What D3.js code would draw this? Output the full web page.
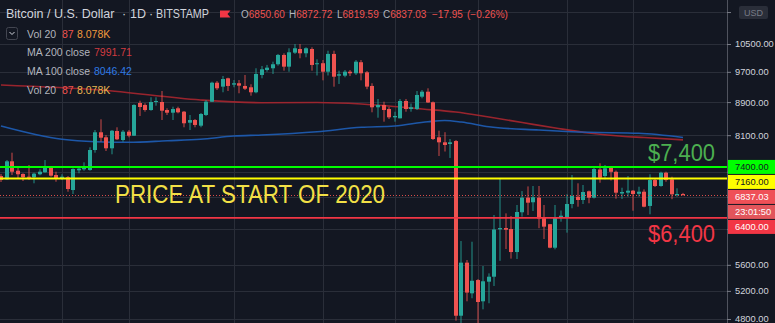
<!DOCTYPE html>
<html><head><meta charset="utf-8">
<script src="https://cdn.jsdelivr.net/npm/d3@7"></script>
<style>
html,body{margin:0;padding:0;background:#131722;overflow:hidden}
svg{display:block}
text{font-family:"Liberation Sans",Arial,sans-serif}
</style>
</head><body>
<svg id="c" width="775" height="323"></svg>
<script>
// ---------- DATA ----------
const startDate = "2019-12-21"; // first daily candle
const opens  = [7211,7143,7519,7321,7253,7197,7185,7247,7288,7392,7232,7164,7185,6929,7329,7350,7335,7765,8167,8051,7803,8197,7989,8181,8088,8877,8827,8701,8902,8902,8701,8635,8744,8660,8393,8457,8322,8579,8910,9405,9300,9523,9353,9390,9318,9283,9152,9614,9751,9799,9912,10178,9844,10244,10352,10226,10352,9912,9941,9704,10207,9595,9595,9704,9660,9969,9687,9318,8769,8827,8726,8522,8498,8928,8726,8726,9038,9167,8895,8051,7937,7899,7966,4845,5635,5164,5363,5048,5338,5414,6196,6219,6201,5808,6504,6780,6692,6780,6399,6287,5880,6412,6412,6659,6798,6735,6904,6780,7346,7211,7388,7298,6861,6877,6916,6855,6896,6622,7129,7009,7279,7143,6845,6850.60];
const highs  = [7253,7547,7706,7420,7267,7441,7280,7350,7547,7405,7300,7247,7211,7371,7405,7498,7825,8220,8474,8105,8220,8284,8220,8220,8845,8935,8870,9023,9023,9185,8744,8784,8784,8677,8579,8481,8628,8953,9432,9450,9587,9540,9477,9477,9614,9363,9800,9864,9893,9985,10207,10226,10373,10500,10500,10402,10402,10053,10033,10302,10302,9732,9751,9751,10033,10033,9723,9390,8979,8910,8776,8660,8979,8979,8865,9185,9211,9256,8915,8204,8169,8012,7989,5993,5678,5981,5378,5582,5466,6454,7170,6484,6435,6640,6909,7001,7009,7009,6640,6291,6640,6537,6846,7232,7063,7029,6919,7392,7477,7441,7409,7325,6975,7211,6929,6995,6943,7247,7164,7300,7300,7197,6963,6872.72];
const lows   = [7089,7129,7232,7150,7109,7129,7063,7226,7280,7197,7095,7129,6896,6851,7267,7321,7321,7706,7951,7743,7671,7989,7951,8051,8082,8555,8660,8684,8809,8457,8579,8457,8620,8284,8220,8284,8284,8555,8902,9211,9152,9185,9283,9126,9211,9064,9126,9523,9704,9641,9872,9732,9704,10207,10082,10111,9732,9600,9469,9600,9299,9371,9551,9584,9614,9469,9232,8645,8513,8417,8481,8417,8498,8660,8660,8701,8996,8877,7989,7634,7732,7591,4777,3850,5048,5092,4440,4934,5020,5273,5665,5858,5700,5694,6423,6454,6528,6216,6027,5870,5853,6332,6137,6578,6608,6659,6673,6764,7075,7143,7119,6760,6755,6799,6533,6799,6597,6467,6989,6995,7095,6751,6799,6819.59];
const closes = [7129,7519,7300,7247,7185,7176,7259,7300,7405,7218,7150,7197,6949,7356,7363,7405,7765,8167,8042,7803,8203,8005,8181,8088,8827,8776,8701,8902,8928,8684,8635,8726,8645,8379,8457,8339,8603,8910,9405,9256,9504,9318,9390,9326,9246,9152,9641,9771,9816,9912,10178,9844,10255,10373,10226,10373,9892,9941,9704,10207,9567,9633,9704,9660,9985,9660,9300,8769,8827,8701,8522,8555,8928,8726,8769,9082,9167,8890,8012,7937,7877,7937,4845,5635,5175,5352,5038,5344,5414,6193,6219,6189,5808,6509,6780,6684,6788,6390,6243,5880,6412,6441,6659,6812,6735,6890,6780,7356,7176,7371,7298,6877,6890,6916,6851,6896,6608,7129,7009,7279,7129,6845,6851,6837.03];

// moving averages at selected candles (day index from start)
const ma200Days   = [0,18,36,47,57,65,72,76,82,88,94,100,106,112,116,123];
const ma200Values = [9343,9211,8953,8884,8890,8852,8776,8727,8652,8529,8397,8267,8150,8076,8046,7991.71];
const ma100Days   = [0,11,17,23,30,36,42,47,57,65,71,77,80,83,88,97,106,115,123];
const ma100Values = [8314,8005,7950,7937,7973,8007,8080,8104,8180,8283,8314,8416,8445,8409,8297,8220,8166,8143,8046.42];

const priceTicks = [11500,10500,9700,8900,8100,7300,6800,6200,5600,5200,4800];
const gridDates  = ["2020-01-01","2020-01-13","2020-02-01","2020-02-17","2020-03-01","2020-03-16","2020-04-01","2020-04-13"];

const levelGreen = 7400, levelYellow = 7160, levelRed = 6400;
const lastPrice = 6837.03;
const countdown = "23:01:50";

// ---------- CHART ----------
const W = 775, H = 323, plotR = 727;
const svg = d3.select("#c");
const parse = d3.utcParse("%Y-%m-%d");
const t0 = parse(startDate);
const dates = opens.map((_, i) => d3.utcDay.offset(t0, i));
const x = d3.scaleUtc().domain([t0, dates[dates.length - 1]]).range([1, 683]);
const y = d3.scaleLog().domain([10500, 4800]).range([44, 319]);

const up = "#26a69a", down = "#ef5350";

svg.append("rect").attr("width", W).attr("height", H).attr("fill", "#131722");

// grid
const grid = svg.append("g").attr("shape-rendering", "crispEdges").attr("stroke", "#2a2e39").attr("stroke-width", 1);
grid.selectAll(".hg").data(priceTicks).join("line")
  .attr("x1", 0).attr("x2", plotR)
  .attr("y1", d => Math.round(y(d)) + 0.5).attr("y2", d => Math.round(y(d)) + 0.5);
grid.selectAll(".vg").data(gridDates.map(parse)).join("line")
  .attr("y1", 0).attr("y2", H)
  .attr("x1", d => Math.round(x(d)) + 0.5).attr("x2", d => Math.round(x(d)) + 0.5);

// moving averages
const dayX = i => x(d3.utcDay.offset(t0, i));
const maLine = d3.line().x(d => dayX(d[0])).y(d => y(d[1])).curve(d3.curveMonotoneX);
svg.append("path").datum(d3.zip(ma200Days, ma200Values)).attr("d", maLine)
  .attr("fill", "none").attr("stroke", "#a8262f").attr("stroke-width", 1.6).attr("opacity", 0.9);
svg.append("path").datum(d3.zip(ma100Days, ma100Values)).attr("d", maLine)
  .attr("fill", "none").attr("stroke", "#1e5bb0").attr("stroke-width", 1.6).attr("opacity", 0.95);

// candles
const candles = dates.map((d, i) => ({d, o: opens[i], h: highs[i], l: lows[i], c: closes[i]}));
const cg = svg.append("g");
const bw = 4;
cg.selectAll(".wick").data(candles).join("rect")
  .attr("x", d => Math.round(x(d.d) - bw / 2) + 1.5)
  .attr("width", 1)
  .attr("y", d => y(d.h))
  .attr("height", d => Math.max(1, y(d.l) - y(d.h)))
  .attr("fill", d => d.c >= d.o ? up : down)
  .attr("opacity", 0.85);
cg.selectAll(".body").data(candles).join("rect")
  .attr("x", d => Math.round(x(d.d) - bw / 2))
  .attr("width", bw)
  .attr("y", d => y(Math.max(d.o, d.c)))
  .attr("height", d => Math.max(1, Math.abs(y(d.o) - y(d.c))))
  .attr("fill", d => d.c >= d.o ? up : down);

// horizontal levels
svg.append("line").attr("x1", 0).attr("x2", plotR).attr("y1", y(levelGreen)).attr("y2", y(levelGreen))
  .attr("stroke", "#00ff00").attr("stroke-width", 2);
svg.append("line").attr("x1", 0).attr("x2", plotR).attr("y1", y(levelYellow)).attr("y2", y(levelYellow))
  .attr("stroke", "#ffff00").attr("stroke-width", 1.8);
svg.append("line").attr("x1", 0).attr("x2", plotR).attr("y1", y(levelRed)).attr("y2", y(levelRed))
  .attr("stroke", "#f23645").attr("stroke-width", 1.8);
svg.append("line").attr("x1", 0).attr("x2", plotR).attr("y1", Math.round(y(lastPrice)) + 0.5).attr("y2", Math.round(y(lastPrice)) + 0.5)
  .attr("stroke", "#ef5350").attr("stroke-width", 1).attr("stroke-dasharray", "1,2").attr("opacity", 0.9);

// annotations
svg.append("text").attr("x", 648).attr("y", y(levelGreen) - 6).attr("font-size", 24)
  .attr("textLength", 67).attr("lengthAdjust", "spacingAndGlyphs").attr("fill", "#4caf50").text("$7,400");
svg.append("text").attr("x", 648).attr("y", y(levelRed) + 24).attr("font-size", 24)
  .attr("textLength", 67).attr("lengthAdjust", "spacingAndGlyphs").attr("fill", "#f23645").text("$6,400");
svg.append("text").attr("x", 115).attr("y", y(levelYellow) + 24.5).attr("font-size", 26)
  .attr("textLength", 270).attr("lengthAdjust", "spacingAndGlyphs").attr("fill", "#f2e046").text("PRICE AT START OF 2020");

// legend
const lg = svg.append("g").attr("font-size", 10.5);
const tt = (xx, yy, txt, col, size) => lg.append("text").attr("x", xx).attr("y", yy).attr("fill", col)
  .attr("font-size", size || 10.5).text(txt);
tt(6, 18.3, "Bitcoin / U.S. Dollar", "#d1d4dc", 12.5);
tt(122, 18.3, "·", "#d1d4dc", 12.5);
tt(130, 18.3, "1D", "#d1d4dc", 12.5);
tt(149, 18.3, "·", "#d1d4dc", 12.5);
lg.append("text").attr("x", 156).attr("y", 18.3).attr("fill", "#d1d4dc").attr("font-size", 12.5)
  .attr("textLength", 53).attr("lengthAdjust", "spacingAndGlyphs").text("BITSTAMP");
lg.append("path").attr("d", "M220,10.5H230.5L227.5,14L230.5,17.5H220Z").attr("fill", "#f23645");
const ohlc = [["O", "6850.60", 241], ["H", "6872.72", 289], ["L", "6819.59", 337], ["C", "6837.03", 383]];
ohlc.forEach(([k, v, xx]) => {
  const t = lg.append("text").attr("x", xx).attr("y", 18.3).attr("font-size", 10);
  t.append("tspan").attr("fill", "#b2b5be").text(k);
  t.append("tspan").attr("fill", "#ef5350").text(v);
});
tt(432, 18.3, "−17.95", "#ef5350", 10);
tt(467, 18.3, "(−0.26%)", "#ef5350", 10);

lg.append("rect").attr("x", 6.5).attr("y", 27.5).attr("width", 11).attr("height", 12).attr("rx", 2)
  .attr("fill", "none").attr("stroke", "#434651");
lg.append("path").attr("d", "M9.5,32L12,34.5L14.5,32").attr("fill", "none").attr("stroke", "#d1d4dc").attr("stroke-width", 1);
tt(27, 37.7, "Vol 20", "#b2b5be"); tt(62, 37.7, "87", "#ef5350"); tt(77, 37.7, "8.078K", "#f09a3e");
tt(27, 56, "MA 200 close", "#b2b5be"); tt(94, 56, "7991.71", "#d23b40");
tt(27, 74.7, "MA 100 close", "#b2b5be"); tt(94, 74.7, "8046.42", "#2f7ae5");
tt(27, 93.7, "Vol 20", "#b2b5be"); tt(62, 93.7, "87", "#ef5350"); tt(77, 93.7, "8.078K", "#e8b650");

// right price axis
svg.append("line").attr("x1", plotR + 0.5).attr("x2", plotR + 0.5).attr("y1", 0).attr("y2", H)
  .attr("stroke", "#50535e").attr("shape-rendering", "crispEdges");

// labels for levels with collision layout (TradingView style)
const boxH = 14;
const levelLabels = [
  {v: levelGreen, txt: d3.format(".2f")(levelGreen), bg: "#00ff00", fg: "#131722"},
  {v: levelYellow, txt: d3.format(".2f")(levelYellow), bg: "#ffff00", fg: "#131722"},
  {v: lastPrice, txt: d3.format(".2f")(lastPrice), bg: "#ef5057", fg: "#ffffff"},
  {v: null, txt: countdown, bg: "#e2555b", fg: "#ffffff"},
  {v: levelRed, txt: d3.format(".2f")(levelRed), bg: "#f23645", fg: "#ffffff"}
];
let prevBottom = -Infinity;
levelLabels.forEach(l => {
  let top = l.v == null ? prevBottom + 1 : y(l.v) - boxH / 2;
  if (top < prevBottom + 1) top = prevBottom + 1;
  l.top = top; prevBottom = top + boxH;
});
const occupied = levelLabels.map(l => l.top + boxH / 2);
const badgeY = 12.5; // currency badge covers the topmost tick label

const axis = d3.axisRight(y).tickValues(priceTicks).tickFormat(d3.format(".2f")).tickSize(4).tickPadding(4);
const ag = svg.append("g").attr("transform", `translate(${plotR},0)`).call(axis);
ag.select(".domain").remove();
ag.selectAll(".tick line").attr("stroke", "#787b86");
ag.selectAll(".tick text").attr("fill", "#d1d4dc").attr("font-size", 9.3)
  .attr("font-family", "Liberation Sans, Arial, sans-serif")
  .style("display", d => (occupied.some(c => Math.abs(c - y(d)) < 11) || Math.abs(y(d) - badgeY) < 8) ? "none" : null);

const lbl = svg.append("g");
levelLabels.forEach(l => {
  lbl.append("rect").attr("x", plotR + 1).attr("y", l.top).attr("width", W - plotR - 1).attr("height", boxH).attr("fill", l.bg);
  lbl.append("text").attr("x", 735).attr("y", l.top + boxH / 2 + 3.3).attr("font-size", 9.3).attr("fill", l.fg).text(l.txt);
});

// currency badge
svg.append("rect").attr("x", 739).attr("y", 6).attr("width", 29).attr("height", 13).attr("rx", 2).attr("fill", "#2a2e39");
svg.append("text").attr("x", 753.5).attr("y", 15.6).attr("text-anchor", "middle").attr("font-size", 9)
  .attr("fill", "#787b86").text("USD");
</script>
</body></html>
